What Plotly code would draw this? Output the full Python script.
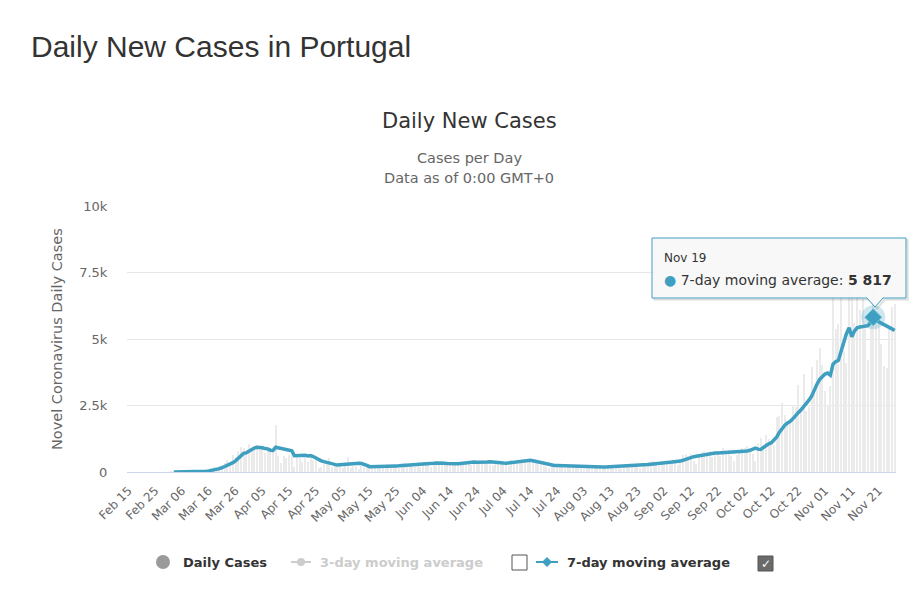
import pandas as pd
import plotly.graph_objects as go

# ---------------- data ----------------
axis_start = "2020-02-15"
axis_end = "2020-11-27"
tick_start = "2020-02-15"
tick_end = "2020-11-21"

daily_start = "2020-03-02"
daily_cases = [
    # Mar 2 - Mar 31
    2, 2, 1, 4, 4, 8, 9, 9, 11, 18, 19, 34, 57, 76, 86, 117, 194, 143, 235, 260,
    320, 460, 302, 633, 549, 800, 950, 900, 800, 1050,
    # Apr
    900, 980, 1000, 950, 900, 720, 850, 800, 850, 1750, 598, 349, 598, 514, 643, 750, 181, 663, 521, 392,
    516, 371, 603, 444, 595, 163, 183, 345, 295, 533,
    # May
    181, 240, 326, 242, 163, 378, 553, 138, 226, 234, 98, 219, 187, 264, 288, 170, 187, 173, 252, 257,
    228, 288, 271, 138, 226, 142, 304, 350, 200, 268, 252,
    # Jun
    200, 366, 195, 366, 377, 382, 192, 346, 294, 382, 421, 294, 360, 300, 328, 315, 345, 274, 328, 375,
    417, 259, 311, 345, 367, 451, 342, 457, 266, 229,
    # Jul
    328, 375, 413, 374, 329, 232, 443, 374, 375, 402, 441, 443, 443, 402, 432, 339, 312, 252, 229, 194,
    135, 313, 251, 253, 226, 183, 135, 227, 278, 211, 172,
    # Aug
    189, 173, 106, 219, 245, 203, 203, 176, 133, 102, 172, 167, 212, 229, 186, 172, 131, 235, 290, 189,
    268, 248, 213, 153, 196, 279, 358, 400, 401, 328, 219,
    # Sep
    390, 374, 420, 401, 488, 430, 277, 410, 646, 687, 613, 673, 408, 300, 613, 770, 780, 750, 780, 552,
    623, 691, 608, 899, 688, 830, 610, 425, 650, 819,
    # Oct
    895, 892, 967, 812, 667, 427, 1077, 1278, 964, 1395, 1246, 1044, 1031, 2072, 2101, 2608, 2153, 1828, 1877, 2535,
    2447, 3270, 2433, 3669, 2287, 2447, 3960, 3102, 4224, 4656, 4007,
    # Nov 1 - Nov 27
    3062, 2506, 3230, 6600, 5380, 5550, 6640, 4566, 4096, 6993, 7497, 5595, 6602, 6081, 6500, 5550, 4200, 5800, 6990, 6000,
    5550, 4800, 4000, 3900, 5500, 6200, 6300,
]

ma7_start = "2020-03-03"
ma7 = [
    # Mar 3 - Mar 31
    1, 1, 2, 3, 4, 5, 6, 7, 9, 11, 15, 22, 30, 42, 57, 80, 97, 125, 160, 200,
    250, 280, 350, 420, 500, 620, 700, 720, 790,
    # Apr
    850, 900, 930, 930, 910, 880, 870, 820, 810, 930, 910, 890, 870, 850, 830, 800, 610, 620, 640, 650,
    630, 600, 620, 580, 520, 470, 420, 390, 360, 330,
    # May
    310, 280, 260, 270, 280, 300, 320, 330, 340, 340, 330, 320, 300, 250, 200, 200, 205, 210, 215, 215,
    220, 220, 225, 225, 230, 235, 240, 245, 250, 255, 260,
    # Jun
    270, 275, 285, 290, 300, 310, 320, 330, 340, 345, 340, 330, 320, 310, 305, 305, 310, 320, 335, 350,
    360, 370, 375, 370, 365, 360, 365, 380, 385, 370,
    # Jul
    355, 345, 340, 335, 330, 340, 360, 380, 395, 410, 420, 430, 440, 440, 425, 400, 375, 350, 320, 295,
    275, 255, 245, 240, 235, 230, 225, 220, 215, 215, 210,
    # Aug
    205, 200, 195, 190, 188, 186, 185, 185, 185, 188, 190, 195, 200, 205, 210, 220, 225, 225, 230, 230,
    232, 235, 238, 240, 250, 265, 280, 295, 310, 320, 330,
    # Sep
    340, 350, 360, 370, 375, 380, 390, 410, 440, 480, 520, 560, 575, 590, 610, 620, 630, 640, 680, 710,
    710, 715, 720, 720, 725, 730, 735, 740, 745, 755,
    # Oct
    765, 775, 790, 815, 860, 900, 860, 850, 920, 1000, 1060, 1100, 1200, 1320, 1500, 1650, 1760, 1840, 1900, 2000,
    2130, 2230, 2330, 2440, 2560, 2700, 2850, 3100, 3300, 3480, 3600,
    # Nov 1 - Nov 27
    3680, 3720, 3640, 4050, 4150, 4200, 4550, 4900, 5200, 5420, 5080, 5300, 5420, 5450, 5460, 5480, 5500, 5620, 5817, 5700,
    5650, 5600, 5560, 5500, 5450, 5380, 5320,
]

hover_date = "2020-11-19"

y_tickvals = [0, 2500, 5000, 7500, 10000]
y_ticktext = ["0", "2.5k", "5k", "7.5k", "10k"]

# ---------------- build ----------------
daily_dates = pd.date_range(daily_start, periods=len(daily_cases), freq="D")
ma7_dates = pd.date_range(ma7_start, periods=len(ma7), freq="D")
ma7_s = pd.Series(ma7, index=ma7_dates)
hover_val = ma7_s[pd.Timestamp(hover_date)]
tick_dates = pd.date_range(tick_start, tick_end, freq="10D")

W, H = 917, 591
L, R, T, B = 127, 21, 206, 119
PW, PH = W - L - R, H - T - B


def px(X):
    return (X - L) / PW


def py(Y):
    return (H - B - Y) / PH


LINE = "#3f9fc1"
FONT = "DejaVu Sans"

fig = go.Figure()
fig.add_trace(go.Bar(
    x=daily_dates, y=daily_cases, name="Daily Cases",
    marker=dict(color="#ebebeb", line=dict(width=0)),
    width=0.38 * 86400000, showlegend=False, hoverinfo="skip",
))
fig.add_trace(go.Scatter(
    x=ma7_dates, y=ma7, mode="lines", name="7-day moving average",
    line=dict(color=LINE, width=3.5), showlegend=False,
))
fig.add_trace(go.Scatter(
    x=[pd.Timestamp(hover_date)], y=[hover_val], mode="markers",
    marker=dict(size=24, color="rgba(63,159,193,0.25)"), showlegend=False, hoverinfo="skip",
))
fig.add_trace(go.Scatter(
    x=[pd.Timestamp(hover_date)], y=[hover_val], mode="markers",
    marker=dict(size=13, symbol="diamond", color=LINE, line=dict(color="#6fbcd6", width=1)),
    showlegend=False, hoverinfo="skip",
))

shapes = []
annotations = []

# page title
annotations.append(dict(text="Daily New Cases in Portugal", x=px(29), y=py(46), xref="paper", yref="paper",
                        xanchor="left", yanchor="middle", showarrow=False,
                        font=dict(family="Liberation Sans", size=30, color="#333333")))
# chart titles
annotations.append(dict(text="Daily New Cases", x=px(469), y=py(121), xref="paper", yref="paper",
                        xanchor="center", yanchor="middle", showarrow=False,
                        font=dict(family=FONT, size=21, color="#333333")))
annotations.append(dict(text="Cases per Day", x=px(469), y=py(158), xref="paper", yref="paper",
                        xanchor="center", yanchor="middle", showarrow=False,
                        font=dict(family=FONT, size=14.5, color="#666666")))
annotations.append(dict(text="Data as of 0:00 GMT+0", x=px(469), y=py(178), xref="paper", yref="paper",
                        xanchor="center", yanchor="middle", showarrow=False,
                        font=dict(family=FONT, size=14.5, color="#666666")))
annotations.append(dict(text="Novel Coronavirus Daily Cases", x=px(57), y=py(339), xref="paper", yref="paper",
                        xanchor="center", yanchor="middle", showarrow=False, textangle=-90,
                        font=dict(family=FONT, size=14.5, color="#666666")))

# tooltip callout
tx0, tx1, ty0, ty1 = 652, 906, 238, 298
ax, ay = 875, 307
path = (f"M {px(tx0)} {py(ty0)} H {px(tx1)} V {py(ty1)} H {px(ax + 8)} L {px(ax)} {py(ay)} "
        f"L {px(ax - 8)} {py(ty1)} H {px(tx0)} Z")
spath = (f"M {px(tx0 + 2)} {py(ty0 + 2)} H {px(tx1 + 2)} V {py(ty1 + 2)} H {px(ax + 10)} L {px(ax + 2)} {py(ay + 2)} "
         f"L {px(ax - 6)} {py(ty1 + 2)} H {px(tx0 + 2)} Z")
shapes.append(dict(type="path", path=spath, xref="paper", yref="paper",
                   fillcolor="rgba(0,0,0,0.06)", line=dict(color="rgba(0,0,0,0.08)", width=2)))
shapes.append(dict(type="path", path=path, xref="paper", yref="paper",
                   fillcolor="rgba(248,248,248,0.92)", line=dict(color=LINE, width=1)))
annotations.append(dict(text="Nov 19", x=px(662), y=py(258), xref="paper", yref="paper",
                        xanchor="left", yanchor="middle", showarrow=False,
                        font=dict(family=FONT, size=12, color="#333333")))
val_txt = f"{int(hover_val):,}".replace(",", " ")
annotations.append(dict(text=f"<span style='color:{LINE}'>●</span> 7-day moving average: <b>{val_txt}</b>",
                        x=px(662), y=py(280), xref="paper", yref="paper",
                        xanchor="left", yanchor="middle", showarrow=False,
                        font=dict(family=FONT, size=14, color="#333333")))

# legend (drawn)
LY = 562
shapes.append(dict(type="circle", xref="paper", yref="paper", x0=px(156), x1=px(170), y0=py(555), y1=py(569),
                   fillcolor="#9a9a9a", line=dict(width=0)))
annotations.append(dict(text="<b>Daily Cases</b>", x=px(181), y=py(LY), xref="paper", yref="paper",
                        xanchor="left", yanchor="middle", showarrow=False,
                        font=dict(family=FONT, size=13, color="#333333")))
shapes.append(dict(type="line", xref="paper", yref="paper", x0=px(291), x1=px(311), y0=py(LY), y1=py(LY),
                   line=dict(color="#cccccc", width=2)))
shapes.append(dict(type="circle", xref="paper", yref="paper", x0=px(297), x1=px(305), y0=py(LY - 4), y1=py(LY + 4),
                   fillcolor="#cccccc", line=dict(width=0)))
annotations.append(dict(text="<b>3-day moving average</b>", x=px(318), y=py(LY), xref="paper", yref="paper",
                        xanchor="left", yanchor="middle", showarrow=False,
                        font=dict(family=FONT, size=13, color="#cccccc")))
shapes.append(dict(type="rect", xref="paper", yref="paper", x0=px(512), x1=px(527), y0=py(555), y1=py(570),
                   fillcolor="white", line=dict(color="#555555", width=1)))
shapes.append(dict(type="line", xref="paper", yref="paper", x0=px(536), x1=px(558), y0=py(LY), y1=py(LY),
                   line=dict(color=LINE, width=2)))
shapes.append(dict(type="path", xref="paper", yref="paper",
                   path=f"M {px(547)} {py(LY - 5)} L {px(552)} {py(LY)} L {px(547)} {py(LY + 5)} L {px(542)} {py(LY)} Z",
                   fillcolor=LINE, line=dict(width=0)))
annotations.append(dict(text="<b>7-day moving average</b>", x=px(565), y=py(LY), xref="paper", yref="paper",
                        xanchor="left", yanchor="middle", showarrow=False,
                        font=dict(family=FONT, size=13, color="#333333")))
shapes.append(dict(type="rect", xref="paper", yref="paper", x0=px(758), x1=px(773), y0=py(556), y1=py(571),
                   fillcolor="#6a6a6a", line=dict(color="#555555", width=1)))
annotations.append(dict(text="✓", x=px(765.5), y=py(563.5), xref="paper", yref="paper",
                        xanchor="center", yanchor="middle", showarrow=False,
                        font=dict(family=FONT, size=12, color="white")))

fig.update_layout(
    width=W, height=H,
    margin=dict(l=L, r=R, t=T, b=B, autoexpand=False),
    paper_bgcolor="white", plot_bgcolor="white",
    showlegend=False, bargap=0,
    shapes=shapes, annotations=annotations,
    font=dict(family=FONT, color="#666666"),
)
fig.update_xaxes(
    type="date",
    range=[pd.Timestamp(axis_start) - pd.Timedelta(hours=12), pd.Timestamp(axis_end) + pd.Timedelta(hours=12)],
    tickvals=tick_dates, tickformat="%b %d", tickangle=-45,
    tickfont=dict(family=FONT, size=12, color="#666666"),
    showgrid=False, showline=True, linecolor="#ccd6eb", linewidth=1, zeroline=False,
    ticks="outside", ticklen=6, tickcolor="rgba(0,0,0,0)",
)
fig.update_yaxes(
    range=[0, 10000], tickvals=y_tickvals, ticktext=y_ticktext,
    tickfont=dict(family=FONT, size=13, color="#666666"),
    showgrid=True, gridcolor="#e6e6e6", gridwidth=1, zeroline=False, showline=False,
    ticks="outside", ticklen=16, tickcolor="rgba(0,0,0,0)",
)

fig.write_html("out.html")
